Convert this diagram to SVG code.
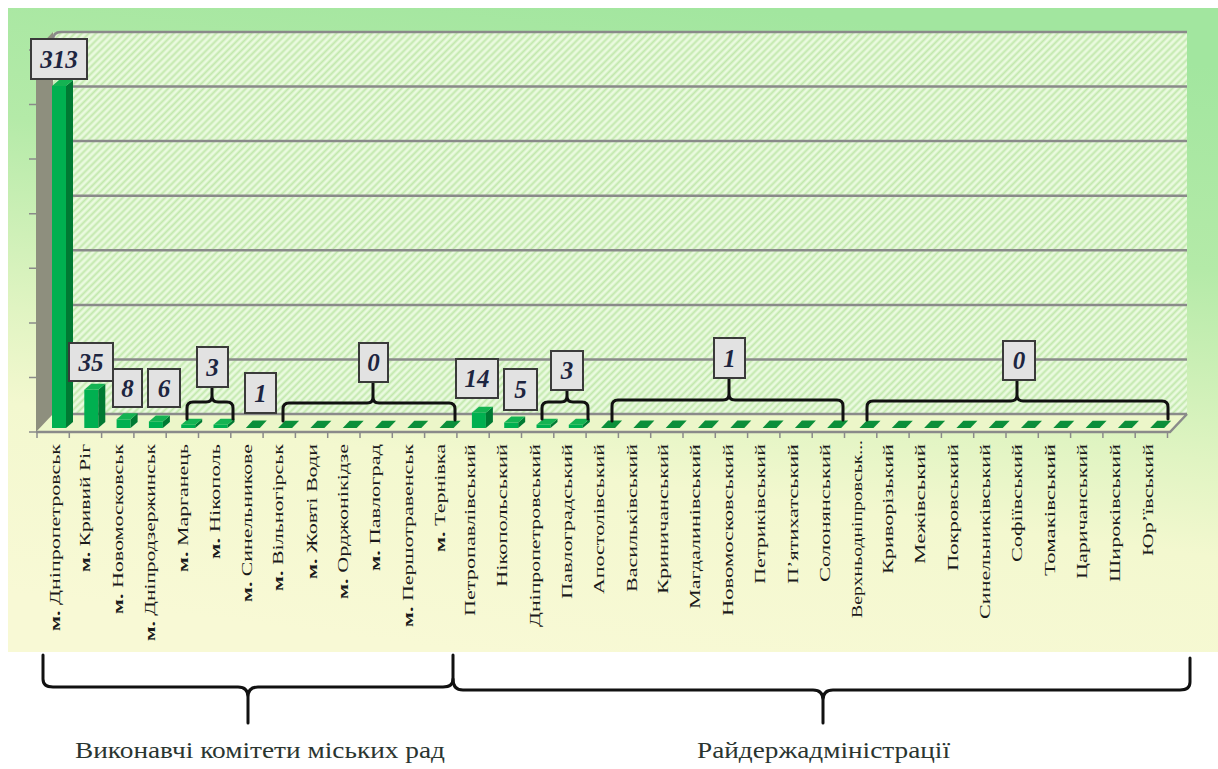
<svg xmlns="http://www.w3.org/2000/svg" width="1218" height="769" viewBox="0 0 1218 769">
<defs>
<linearGradient id="bg" x1="0.62" y1="0" x2="0.38" y2="1">
<stop offset="0" stop-color="#a2e69f"/>
<stop offset="0.3" stop-color="#b4eaa8"/>
<stop offset="0.58" stop-color="#e0f4c2"/>
<stop offset="0.72" stop-color="#f3f8cf"/>
<stop offset="1" stop-color="#f8f9d5"/>
</linearGradient>
<pattern id="hatch" width="5" height="5" patternUnits="userSpaceOnUse" patternTransform="rotate(45)">
<rect width="5" height="5" fill="#eafadf"/>
<line x1="1.5" y1="0" x2="1.5" y2="5" stroke="#c2e8ad" stroke-width="2"/>
</pattern>
<style>
.grid{stroke:#8a8a8a;stroke-width:2.5;fill:none}
.tick{stroke:#8a8a8a;stroke-width:1.5}
.front{fill:#00b050}
.side{fill:#007a33}
.top{fill:#14b352}
.flat{fill:#0b8f3a}
.box{fill:#e2e2e2;stroke:#3a3a3a;stroke-width:2}
.val{font-family:"Liberation Serif","Times New Roman",serif;font-weight:bold;font-style:italic;font-size:25px;fill:#1d2540;text-anchor:middle}
.brace{fill:none;stroke:#111;stroke-width:3;stroke-linecap:round;stroke-linejoin:round}
.xl{font-family:"Liberation Serif","Times New Roman",serif;font-size:15px;fill:#1a1a1a;text-anchor:end}
.b{font-weight:bold}
.big{font-family:"Liberation Serif","Times New Roman",serif;font-size:23px;fill:#2a3530}
</style>
</defs>
<rect width="1218" height="769" fill="#ffffff"/>
<g id="chart-area">
<rect x="8" y="8" width="1210" height="644" fill="url(#bg)"/>
<rect x="53" y="32" width="1134" height="382" fill="url(#hatch)"/>
<polygon points="36,432 1170,432 1187,414 53,414" fill="#ecf6c9"/>
<polygon points="36,50 53,32 53,414 36,432" fill="#8e8f7e"/>
<path class="grid" d="M53,40 Q53,32 61,32 H1187"/>
<path class="grid" d="M53,86.6 H1187 M53,141.1 H1187 M53,195.7 H1187 M53,250.3 H1187 M53,304.9 H1187 M53,359.4 H1187 M53,414 H1187"/>
<path class="grid" d="M36,432 H1170 L1187,414"/>
<path class="tick" d="M29,50 H36 M29,104.6 H36 M29,159.1 H36 M29,213.7 H36 M29,268.3 H36 M29,322.9 H36 M29,377.4 H36 M29,432 H36"/>
<path class="tick" d="M37,432V438 M69.3,432V438 M101.6,432V438 M133.9,432V438 M166.2,432V438 M198.5,432V438 M230.8,432V438 M263.1,432V438 M295.4,432V438 M327.7,432V438 M360,432V438 M392.3,432V438 M424.6,432V438 M456.9,432V438 M489.2,432V438 M521.5,432V438 M553.8,432V438 M586.1,432V438 M618.4,432V438 M650.7,432V438 M683,432V438 M715.3,432V438 M747.6,432V438 M779.9,432V438 M812.2,432V438 M844.5,432V438 M876.8,432V438 M909.1,432V438 M941.4,432V438 M973.7,432V438 M1006,432V438 M1038.3,432V438 M1070.6,432V438 M1102.9,432V438 M1135.2,432V438 M1167.5,432V438"/>
</g>
<g id="bars">
<g id="bar-313"><rect class="front" x="52" y="86" width="14" height="342"/><polygon class="side" points="66,428 73,422 73,80 66,86"/><polygon class="top" points="52,86 66,86 73,80 59,80"/></g>
<g id="bar-35"><rect class="front" x="84.3" y="389.8" width="14" height="38.2"/><polygon class="side" points="98.3,428 105.3,422 105.3,383.8 98.3,389.8"/><polygon class="top" points="84.3,389.8 98.3,389.8 105.3,383.8 91.3,383.8"/></g>
<g id="bar-8"><rect class="front" x="116.6" y="419.3" width="14" height="8.7"/><polygon class="side" points="130.6,428 137.6,422 137.6,413.3 130.6,419.3"/><polygon class="top" points="116.6,419.3 130.6,419.3 137.6,413.3 123.6,413.3"/></g>
<g id="bar-6"><rect class="front" x="148.9" y="421.4" width="14" height="6.6"/><polygon class="side" points="162.9,428 169.9,422 169.9,415.4 162.9,421.4"/><polygon class="top" points="148.9,421.4 162.9,421.4 169.9,415.4 155.9,415.4"/></g>
<g id="bar-3a"><rect class="front" x="181.2" y="424.7" width="14" height="3.3"/><polygon class="side" points="195.2,428 202.2,422 202.2,418.7 195.2,424.7"/><polygon class="top" points="181.2,424.7 195.2,424.7 202.2,418.7 188.2,418.7"/></g>
<g id="bar-3b"><rect class="front" x="213.5" y="424.7" width="14" height="3.3"/><polygon class="side" points="227.5,428 234.5,422 234.5,418.7 227.5,424.7"/><polygon class="top" points="213.5,424.7 227.5,424.7 234.5,418.7 220.5,418.7"/></g>
<g id="bar-14"><rect class="front" x="471.9" y="412.7" width="14" height="15.3"/><polygon class="side" points="485.9,428 492.9,422 492.9,406.7 485.9,412.7"/><polygon class="top" points="471.9,412.7 485.9,412.7 492.9,406.7 478.9,406.7"/></g>
<g id="bar-5"><rect class="front" x="504.2" y="422.5" width="14" height="5.5"/><polygon class="side" points="518.2,428 525.2,422 525.2,416.5 518.2,422.5"/><polygon class="top" points="504.2,422.5 518.2,422.5 525.2,416.5 511.2,416.5"/></g>
<g id="bar-3c"><rect class="front" x="536.5" y="424.7" width="14" height="3.3"/><polygon class="side" points="550.5,428 557.5,422 557.5,418.7 550.5,424.7"/><polygon class="top" points="536.5,424.7 550.5,424.7 557.5,418.7 543.5,418.7"/></g>
<g id="bar-3d"><rect class="front" x="568.8" y="424.7" width="14" height="3.3"/><polygon class="side" points="582.8,428 589.8,422 589.8,418.7 582.8,424.7"/><polygon class="top" points="568.8,424.7 582.8,424.7 589.8,418.7 575.8,418.7"/></g>
<g id="flat-bars" class="flat">
<polygon points="245.8,428 259.8,428 266.8,420.5 252.8,420.5"/>
<polygon points="278.1,428 292.1,428 299.1,420.8 285.1,420.8"/>
<polygon points="310.4,428 324.4,428 331.4,420.8 317.4,420.8"/>
<polygon points="342.7,428 356.7,428 363.7,420.8 349.7,420.8"/>
<polygon points="375,428 389,428 396,420.8 382,420.8"/>
<polygon points="407.3,428 421.3,428 428.3,420.8 414.3,420.8"/>
<polygon points="439.6,428 453.6,428 460.6,420.8 446.6,420.8"/>
<polygon points="601.1,428 615.1,428 622.1,420.5 608.1,420.5"/>
<polygon points="633.4,428 647.4,428 654.4,420.5 640.4,420.5"/>
<polygon points="665.7,428 679.7,428 686.7,420.5 672.7,420.5"/>
<polygon points="698,428 712,428 719,420.5 705,420.5"/>
<polygon points="730.3,428 744.3,428 751.3,420.5 737.3,420.5"/>
<polygon points="762.6,428 776.6,428 783.6,420.5 769.6,420.5"/>
<polygon points="794.9,428 808.9,428 815.9,420.5 801.9,420.5"/>
<polygon points="827.2,428 841.2,428 848.2,420.5 834.2,420.5"/>
<polygon points="859.5,428 873.5,428 880.5,420.8 866.5,420.8"/>
<polygon points="891.8,428 905.8,428 912.8,420.8 898.8,420.8"/>
<polygon points="924.1,428 938.1,428 945.1,420.8 931.1,420.8"/>
<polygon points="956.4,428 970.4,428 977.4,420.8 963.4,420.8"/>
<polygon points="988.7,428 1002.7,428 1009.7,420.8 995.7,420.8"/>
<polygon points="1021,428 1035,428 1042,420.8 1028,420.8"/>
<polygon points="1053.3,428 1067.3,428 1074.3,420.8 1060.3,420.8"/>
<polygon points="1085.6,428 1099.6,428 1106.6,420.8 1092.6,420.8"/>
<polygon points="1117.9,428 1131.9,428 1138.9,420.8 1124.9,420.8"/>
<polygon points="1150.2,428 1164.2,428 1171.2,420.8 1157.2,420.8"/>
</g>
</g>
<g id="connectors">
<path class="brace" d="M187,419 V408 Q187,402 193,402 H206 Q212,402 212,396 M212,396 Q212,402 218,402 H227 Q233,402 233,408 V419 M212,396 V387"/>
<path class="brace" d="M283,421 V409 Q283,403 289,403 H367 Q373,403 373,397 M373,397 Q373,403 379,403 H449 Q455,403 455,409 V420 M373,397 V382"/>
<path class="brace" d="M542,419 V408 Q542,402 548,402 H561 Q567,402 567,396 M567,396 Q567,402 573,402 H582 Q588,402 588,408 V419 M567,396 V390"/>
<path class="brace" d="M612,421 V406 Q612,400 618,400 H723 Q729,400 729,394 M729,394 Q729,400 735,400 H837 Q843,400 843,406 V420 M729,394 V378"/>
<path class="brace" d="M867,420 V407 Q867,401 873,401 H1011 Q1017,401 1017,395 M1017,395 Q1017,401 1023,401 H1162 Q1168,401 1168,407 V419 M1017,395 V380"/>
<path class="brace" d="M43,655 V679 Q43,687 53,687 H238 Q248,687 248,697 M248,697 Q248,687 258,687 H443 Q453,687 453,679 V655 M248,697 V723"/>
<path class="brace" d="M453,679 Q453,690 463,690 H813 Q823,690 823,700 M823,700 Q823,690 833,690 H1180 Q1190,690 1190,682 V658 M823,700 V723"/>
</g>
<g id="value-labels">
<g id="v313"><rect class="box" x="31" y="39" width="56" height="40"/><text class="val" x="59" y="67.5">313</text></g>
<g id="v35"><rect class="box" x="69" y="343" width="44" height="38"/><text class="val" x="91" y="370.5">35</text></g>
<g id="v8"><rect class="box" x="113" y="369" width="29" height="38"/><text class="val" x="127.5" y="396.5">8</text></g>
<g id="v6"><rect class="box" x="148" y="369" width="32" height="38"/><text class="val" x="164" y="396.5">6</text></g>
<g id="v3a"><rect class="box" x="197" y="347" width="31" height="40"/><text class="val" x="212.5" y="375.5">3</text></g>
<g id="v1a"><rect class="box" x="245" y="373" width="31" height="40"/><text class="val" x="260.5" y="401.5">1</text></g>
<g id="v0a"><rect class="box" x="359" y="343" width="29" height="39"/><text class="val" x="373.5" y="371">0</text></g>
<g id="v14"><rect class="box" x="456" y="359" width="42" height="39"/><text class="val" x="477" y="387">14</text></g>
<g id="v5"><rect class="box" x="504" y="369" width="33" height="41"/><text class="val" x="520.5" y="398">5</text></g>
<g id="v3b"><rect class="box" x="551" y="351" width="32" height="39"/><text class="val" x="567" y="379">3</text></g>
<g id="v1b"><rect class="box" x="714" y="338" width="31" height="40"/><text class="val" x="729.5" y="366.5">1</text></g>
<g id="v0b"><rect class="box" x="1003" y="341" width="32" height="39"/><text class="val" x="1019" y="369">0</text></g>
</g>
<g id="category-labels">
<text class="xl" transform="translate(60,444) rotate(-90)" textLength="187" lengthAdjust="spacingAndGlyphs"><tspan class="b">м.</tspan> Дніпропетровськ</text>
<text class="xl" transform="translate(90,444) rotate(-90)" textLength="128" lengthAdjust="spacingAndGlyphs"><tspan class="b">м.</tspan> Кривий Ріг</text>
<text class="xl" transform="translate(123,444) rotate(-90)" textLength="170" lengthAdjust="spacingAndGlyphs"><tspan class="b">м.</tspan> Новомосковськ</text>
<text class="xl" transform="translate(155,444) rotate(-90)" textLength="197" lengthAdjust="spacingAndGlyphs"><tspan class="b">м.</tspan> Дніпродзержинськ</text>
<text class="xl" transform="translate(188,444) rotate(-90)" textLength="128" lengthAdjust="spacingAndGlyphs"><tspan class="b">м.</tspan> Марганець</text>
<text class="xl" transform="translate(220,444) rotate(-90)" textLength="115" lengthAdjust="spacingAndGlyphs"><tspan class="b">м.</tspan> Нікополь</text>
<text class="xl" transform="translate(252,444) rotate(-90)" textLength="158" lengthAdjust="spacingAndGlyphs"><tspan class="b">м.</tspan> Синельникове</text>
<text class="xl" transform="translate(283,444) rotate(-90)" textLength="147" lengthAdjust="spacingAndGlyphs"><tspan class="b">м.</tspan> Вільногірськ</text>
<text class="xl" transform="translate(317,444) rotate(-90)" textLength="135" lengthAdjust="spacingAndGlyphs"><tspan class="b">м.</tspan> Жовті Води</text>
<text class="xl" transform="translate(348,444) rotate(-90)" textLength="155" lengthAdjust="spacingAndGlyphs"><tspan class="b">м.</tspan> Орджонікідзе</text>
<text class="xl" transform="translate(380,444) rotate(-90)" textLength="127" lengthAdjust="spacingAndGlyphs"><tspan class="b">м.</tspan> Павлоград</text>
<text class="xl" transform="translate(413,444) rotate(-90)" textLength="183" lengthAdjust="spacingAndGlyphs"><tspan class="b">м.</tspan> Першотравенськ</text>
<text class="xl" transform="translate(445,444) rotate(-90)" textLength="108" lengthAdjust="spacingAndGlyphs"><tspan class="b">м.</tspan> Тернівка</text>
<text class="xl" transform="translate(475,444) rotate(-90)" textLength="172" lengthAdjust="spacingAndGlyphs">Петропавлівський</text>
<text class="xl" transform="translate(507,444) rotate(-90)" textLength="143" lengthAdjust="spacingAndGlyphs">Нікопольський</text>
<text class="xl" transform="translate(540,444) rotate(-90)" textLength="183" lengthAdjust="spacingAndGlyphs">Дніпропетровський</text>
<text class="xl" transform="translate(572,444) rotate(-90)" textLength="155" lengthAdjust="spacingAndGlyphs">Павлоградський</text>
<text class="xl" transform="translate(604,444) rotate(-90)" textLength="150" lengthAdjust="spacingAndGlyphs">Апостолівський</text>
<text class="xl" transform="translate(637,444) rotate(-90)" textLength="148" lengthAdjust="spacingAndGlyphs">Васильківський</text>
<text class="xl" transform="translate(668,444) rotate(-90)" textLength="150" lengthAdjust="spacingAndGlyphs">Криничанський</text>
<text class="xl" transform="translate(700,444) rotate(-90)" textLength="165" lengthAdjust="spacingAndGlyphs">Магдалинівський</text>
<text class="xl" transform="translate(733,444) rotate(-90)" textLength="172" lengthAdjust="spacingAndGlyphs">Новомосковський</text>
<text class="xl" transform="translate(765,444) rotate(-90)" textLength="140" lengthAdjust="spacingAndGlyphs">Петриківський</text>
<text class="xl" transform="translate(798,444) rotate(-90)" textLength="140" lengthAdjust="spacingAndGlyphs">П’ятихатський</text>
<text class="xl" transform="translate(830,444) rotate(-90)" textLength="138" lengthAdjust="spacingAndGlyphs">Солонянський</text>
<text class="xl" transform="translate(862,440) rotate(-90)" textLength="178" lengthAdjust="spacingAndGlyphs">Верхньодніпровськ...</text>
<text class="xl" transform="translate(893,444) rotate(-90)" textLength="130" lengthAdjust="spacingAndGlyphs">Криворізький</text>
<text class="xl" transform="translate(925,444) rotate(-90)" textLength="120" lengthAdjust="spacingAndGlyphs">Межівський</text>
<text class="xl" transform="translate(958,444) rotate(-90)" textLength="127" lengthAdjust="spacingAndGlyphs">Покровський</text>
<text class="xl" transform="translate(990,444) rotate(-90)" textLength="175" lengthAdjust="spacingAndGlyphs">Синельниківський</text>
<text class="xl" transform="translate(1022,444) rotate(-90)" textLength="118" lengthAdjust="spacingAndGlyphs">Софіївський</text>
<text class="xl" transform="translate(1055,444) rotate(-90)" textLength="132" lengthAdjust="spacingAndGlyphs">Томаківський</text>
<text class="xl" transform="translate(1087,444) rotate(-90)" textLength="135" lengthAdjust="spacingAndGlyphs">Царичанський</text>
<text class="xl" transform="translate(1120,444) rotate(-90)" textLength="138" lengthAdjust="spacingAndGlyphs">Широківський</text>
<text class="xl" transform="translate(1153,444) rotate(-90)" textLength="112" lengthAdjust="spacingAndGlyphs">Юр’ївський</text>
</g>
<g id="group-labels">
<text class="big" x="75" y="758" textLength="370" lengthAdjust="spacingAndGlyphs">Виконавчі комітети міських рад</text>
<text class="big" x="697" y="758" textLength="253" lengthAdjust="spacingAndGlyphs">Райдержадміністрації</text>
</g>
</svg>
